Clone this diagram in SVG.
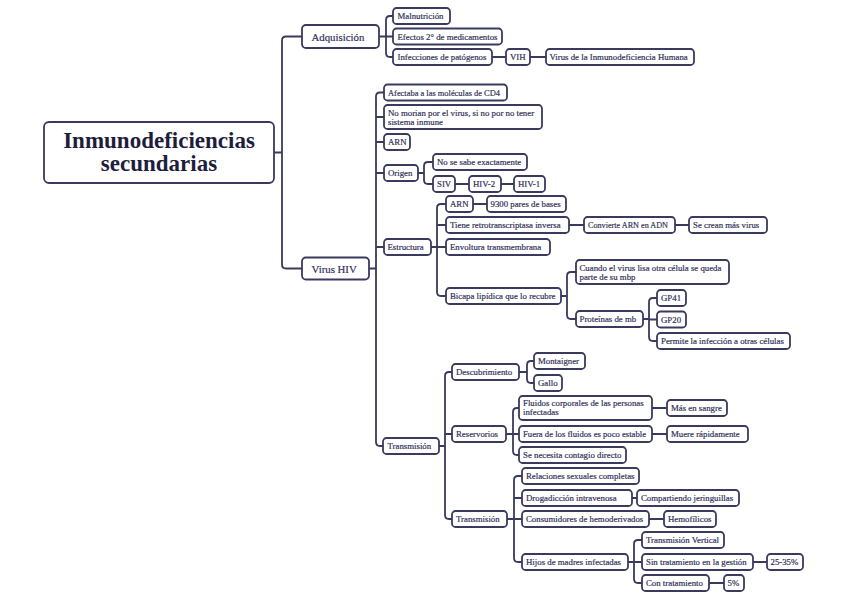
<svg xmlns="http://www.w3.org/2000/svg" width="848" height="599" viewBox="0 0 848 599">
<style>
.n rect{fill:#fff;stroke:#3a3a5e;stroke-width:1.8}
.n text{font-family:"Liberation Serif","DejaVu Serif",serif;font-size:8.8px;fill:#33335a;stroke:#33335a;stroke-width:0.2}
.n text.l1{font-size:10.8px}
.n text.r{font-size:23px;font-weight:bold;fill:#1e1e3c;stroke:none;text-anchor:middle}
#conn path{fill:none;stroke:#3a3a5e;stroke-width:1.8;stroke-linecap:round}
</style>
<rect width="848" height="599" fill="#fff"/>
<g id="conn">
<path d="M274 152.5H282M302 36.5H286Q282 36.5 282 40.5V264.5Q282 268.5 286 268.5H302"/>
<path d="M379 36.5H386M393 16H390Q386 16 386 20V53Q386 57 390 57H393M386 36.5H393"/>
<path d="M492 57H506M530 57H546"/>
<path d="M369 268.5H376M384 92.5H380Q376 92.5 376 96.5V442Q376 446 380 446H383M376 117H384M376 142H384M376 173H384M376 247H384"/>
<path d="M418 173H424M433 162H428Q424 162 424 166V180Q424 184 428 184H433"/>
<path d="M455 184H469M501 184H514"/>
<path d="M431 247H437M446 204H441Q437 204 437 208V292Q437 296 441 296H446M437 225H446M437 247H446"/>
<path d="M473 204H487M569 225H584M675 225H689"/>
<path d="M561 296H567M576 272H571Q567 272 567 276V315Q567 319 571 319H576"/>
<path d="M643 319H649M657 298H653Q649 298 649 302V337Q649 341 653 341H657M649 319.5H657"/>
<path d="M439 446H445M452 372H449Q445 372 445 376V515Q445 519 449 519H452M445 434H452"/>
<path d="M519 372H527M534 361H531Q527 361 527 365V379Q527 383 531 383H534"/>
<path d="M506 434H513M519 408H517Q513 408 513 412V451Q513 455 517 455H519M513 434H519"/>
<path d="M652 408H667M652 434H667"/>
<path d="M507 519H514M522 476H518Q514 476 514 480V558Q514 562 518 562H522M514 498H522M514 519H522"/>
<path d="M632 498H637M649 519H664"/>
<path d="M628 562H634M642 540H638Q634 540 634 544V579Q634 583 638 583H642M634 562H642"/>
<path d="M753 562H767M709 583H724"/>
</g>
<g id="root" class="n"><rect x="44" y="122" width="230" height="61" rx="5"/><text class="r" x="159" y="148">Inmunodeficiencias</text><text class="r" x="159" y="171">secundarias</text></g>
<g id="adq" class="n"><rect x="302" y="25" width="77" height="23" rx="4"/><text class="l1" x="311.5" y="40.5">Adquisición</text></g>
<g id="mal" class="n"><rect x="393" y="8" width="57" height="16" rx="3.5"/><text x="397.5" y="19">Malnutrición</text></g>
<g id="efe" class="n"><rect x="393" y="28.5" width="109" height="16" rx="3.5"/><text x="397.5" y="39.5">Efectos 2° de medicamentos</text></g>
<g id="inf" class="n"><rect x="393" y="49" width="99" height="16" rx="3.5"/><text x="397.5" y="60">Infecciones de patógenos</text></g>
<g id="vih" class="n"><rect x="506" y="49" width="24" height="16" rx="3.5"/><text x="510" y="60">VIH</text></g>
<g id="vdl" class="n"><rect x="546" y="49" width="148" height="16" rx="3.5"/><text x="549.5" y="60">Virus de la Inmunodeficiencia Humana</text></g>
<g id="vhiv" class="n"><rect x="302" y="257.5" width="67" height="22" rx="4"/><text class="l1" x="311.5" y="272.5">Virus HIV</text></g>
<g id="afe" class="n"><rect x="384" y="84.5" width="123" height="16" rx="3.5"/><text x="388" y="95.5" textLength="112" lengthAdjust="spacingAndGlyphs">Afectaba a las moléculas de CD4</text></g>
<g id="nom" class="n"><rect x="384" y="105" width="158" height="24" rx="3.5"/><text x="388" y="115.5">No morian por el virus, si no por no tener</text><text x="388" y="124.5">sistema inmune</text></g>
<g id="arn1" class="n"><rect x="384" y="134" width="26" height="16" rx="3.5"/><text x="388" y="145">ARN</text></g>
<g id="ori" class="n"><rect x="384" y="165" width="34" height="16" rx="3.5"/><text x="388" y="176">Origen</text></g>
<g id="nos" class="n"><rect x="433" y="154" width="94" height="16" rx="3.5"/><text x="437" y="165">No se sabe exactamente</text></g>
<g id="siv" class="n"><rect x="433" y="176" width="22" height="16" rx="3.5"/><text x="437" y="187">SIV</text></g>
<g id="hiv2" class="n"><rect x="469" y="176" width="32" height="16" rx="3.5"/><text x="473" y="187">HIV-2</text></g>
<g id="hiv1" class="n"><rect x="514" y="176" width="31" height="16" rx="3.5"/><text x="518" y="187">HIV-1</text></g>
<g id="est" class="n"><rect x="384" y="239" width="47" height="16" rx="3.5"/><text x="387.5" y="250">Estructura</text></g>
<g id="arn2" class="n"><rect x="446" y="196" width="27" height="16" rx="3.5"/><text x="450" y="207">ARN</text></g>
<g id="pb" class="n"><rect x="487" y="196" width="79" height="16" rx="3.5"/><text x="490.5" y="207">9300 pares de bases</text></g>
<g id="tie" class="n"><rect x="446" y="217" width="123" height="16" rx="3.5"/><text x="450" y="228">Tiene retrotranscriptasa inversa</text></g>
<g id="cvt" class="n"><rect x="584" y="217" width="91" height="16" rx="3.5"/><text x="588" y="228" textLength="80" lengthAdjust="spacingAndGlyphs">Convierte ARN en ADN</text></g>
<g id="sec" class="n"><rect x="689" y="217" width="78" height="16" rx="3.5"/><text x="693" y="228">Se crean más virus</text></g>
<g id="env" class="n"><rect x="446" y="239" width="104" height="16" rx="3.5"/><text x="450" y="250">Envoltura transmembrana</text></g>
<g id="bic" class="n"><rect x="446" y="288" width="115" height="16" rx="3.5"/><text x="450" y="299">Bicapa lipídica que lo recubre</text></g>
<g id="cua" class="n"><rect x="576" y="260" width="153" height="24" rx="3.5"/><text x="579.5" y="270.5">Cuando el virus lisa otra célula se queda</text><text x="579.5" y="279.5">parte de su mbp</text></g>
<g id="pro" class="n"><rect x="576" y="311" width="67" height="16" rx="3.5"/><text x="579.5" y="322">Proteínas de mb</text></g>
<g id="gp41" class="n"><rect x="657" y="290" width="29" height="16" rx="3.5"/><text x="661" y="301">GP41</text></g>
<g id="gp20" class="n"><rect x="657" y="311.5" width="29" height="16" rx="3.5"/><text x="661" y="322.5">GP20</text></g>
<g id="per" class="n"><rect x="657" y="333" width="133" height="16" rx="3.5"/><text x="661" y="344">Permite la infección a otras células</text></g>
<g id="tra" class="n"><rect x="383" y="438" width="56" height="16" rx="3.5"/><text x="387.5" y="449">Transmisión</text></g>
<g id="des" class="n"><rect x="452" y="364" width="67" height="16" rx="3.5"/><text x="456" y="375">Descubrimiento</text></g>
<g id="mon" class="n"><rect x="534" y="353" width="51" height="16" rx="3.5"/><text x="538" y="364">Montaigner</text></g>
<g id="gal" class="n"><rect x="534" y="375" width="28" height="16" rx="3.5"/><text x="538" y="386">Gallo</text></g>
<g id="res" class="n"><rect x="452" y="426" width="54" height="16" rx="3.5"/><text x="456" y="437">Reservorios</text></g>
<g id="flu" class="n"><rect x="519" y="396" width="133" height="24" rx="3.5"/><text x="523" y="406">Fluidos corporales de las personas</text><text x="523" y="415">infectadas</text></g>
<g id="mas" class="n"><rect x="667" y="400" width="60" height="16" rx="3.5"/><text x="671" y="411">Más en sangre</text></g>
<g id="fue" class="n"><rect x="519" y="426" width="133" height="16" rx="3.5"/><text x="523" y="437" textLength="123" lengthAdjust="spacingAndGlyphs">Fuera de los fluidos es poco estable</text></g>
<g id="mue" class="n"><rect x="667" y="426" width="81" height="16" rx="3.5"/><text x="671" y="437">Muere rápidamente</text></g>
<g id="sen" class="n"><rect x="519" y="447" width="107" height="16" rx="3.5"/><text x="523" y="458">Se necesita contagio directo</text></g>
<g id="tra3" class="n"><rect x="452" y="511" width="55" height="16" rx="3.5"/><text x="456" y="522">Transmisión</text></g>
<g id="rel" class="n"><rect x="522" y="468" width="117" height="16" rx="3.5"/><text x="526" y="479">Relaciones sexuales completas</text></g>
<g id="dro" class="n"><rect x="522" y="490" width="110" height="16" rx="3.5"/><text x="526" y="501">Drogadicción intravenosa</text></g>
<g id="com" class="n"><rect x="637" y="490" width="102" height="16" rx="3.5"/><text x="641" y="501">Compartiendo jeringuillas</text></g>
<g id="cns" class="n"><rect x="522" y="511" width="127" height="16" rx="3.5"/><text x="526" y="522">Consumidores de hemoderivados</text></g>
<g id="hem" class="n"><rect x="664" y="511" width="52" height="16" rx="3.5"/><text x="668" y="522">Hemofílicos</text></g>
<g id="hij" class="n"><rect x="522" y="554" width="106" height="16" rx="3.5"/><text x="526" y="565">Hijos de madres infectadas</text></g>
<g id="tv" class="n"><rect x="642" y="532" width="82" height="16" rx="3.5"/><text x="646" y="543">Transmisión Vertical</text></g>
<g id="sin" class="n"><rect x="642" y="554" width="111" height="16" rx="3.5"/><text x="646" y="565">Sin tratamiento en la gestión</text></g>
<g id="p25" class="n"><rect x="767" y="554" width="36" height="16" rx="3.5"/><text x="770.5" y="565">25-35%</text></g>
<g id="ct" class="n"><rect x="642" y="575" width="67" height="16" rx="3.5"/><text x="646" y="586">Con tratamiento</text></g>
<g id="p5" class="n"><rect x="724" y="575" width="20" height="16" rx="3.5"/><text x="727.5" y="586">5%</text></g>
</svg>
